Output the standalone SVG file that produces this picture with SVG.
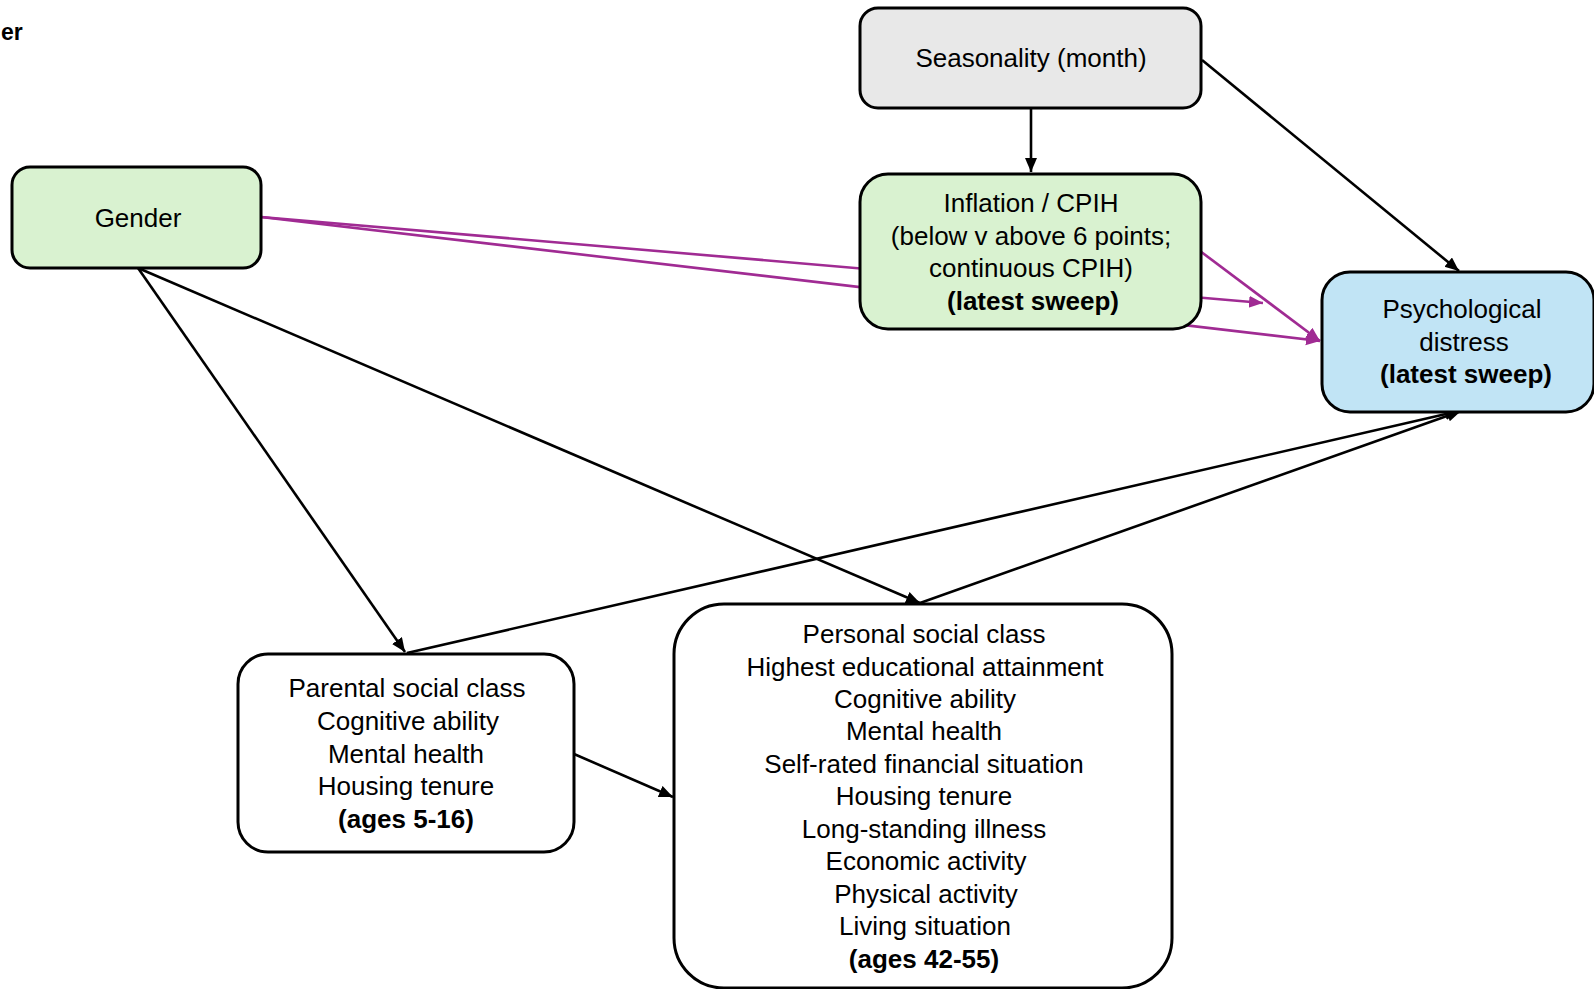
<svg xmlns="http://www.w3.org/2000/svg" width="1594" height="989" viewBox="0 0 1594 989">
<style>
.box{stroke:#000;stroke-width:3}
.t{font-family:"Liberation Sans",Arial,sans-serif;font-size:26px;fill:#000;text-anchor:middle}
.b{font-weight:bold}
.blk{stroke:#000;stroke-width:2.6;fill:none}
.pur{stroke:#a02b93;stroke-width:2.6;fill:none}
</style>
<defs>
<marker id="ab" markerUnits="userSpaceOnUse" markerWidth="16" markerHeight="14" refX="14" refY="6" orient="auto">
<path d="M0,0 L14,6 L0,12 Z" fill="#000"/>
</marker>
<marker id="ap" markerUnits="userSpaceOnUse" markerWidth="16" markerHeight="14" refX="14" refY="6" orient="auto">
<path d="M0,0 L14,6 L0,12 Z" fill="#a02b93"/>
</marker>
</defs>
<rect width="1594" height="989" fill="#fff"/>
<text class="t b" x="1" y="40" style="text-anchor:start;font-size:23px">er</text>
<g id="connectors">
<line class="pur" x1="261" y1="217" x2="1320" y2="341" marker-end="url(#ap)"/>
<line class="pur" x1="261" y1="217" x2="1263" y2="303" marker-end="url(#ap)"/>
<line class="pur" x1="1200" y1="251" x2="1320" y2="341" marker-end="url(#ap)"/>
<line class="blk" x1="1031" y1="108" x2="1031" y2="172" marker-end="url(#ab)"/>
<line class="blk" x1="1202" y1="60" x2="1459" y2="271" marker-end="url(#ab)"/>
<line class="blk" x1="138" y1="268" x2="405" y2="652" marker-end="url(#ab)"/>
<line class="blk" x1="138" y1="268" x2="920" y2="603" marker-end="url(#ab)"/>
<line class="blk" x1="407" y1="653" x2="1459" y2="411" marker-end="url(#ab)"/>
<line class="blk" x1="920" y1="603" x2="1461" y2="411" marker-end="url(#ab)"/>
<line class="blk" x1="574" y1="754" x2="673" y2="797" marker-end="url(#ab)"/>
</g>
<g id="gender">
<rect class="box" x="12" y="167" width="249" height="101" rx="18" fill="#d9f2d0"/>
<text class="t" x="138" y="227">Gender</text>
</g>
<g id="seasonality">
<rect class="box" x="860" y="8" width="341" height="100" rx="18" fill="#e8e8e8"/>
<text class="t" x="1031" y="67">Seasonality (month)</text>
</g>
<g id="inflation">
<rect class="box" x="860" y="174" width="341" height="155" rx="28" fill="#d9f2d0"/>
<text class="t" x="1031" y="212">Inflation / CPIH</text>
<text class="t" x="1031" y="245">(below v above 6 points;</text>
<text class="t" x="1031" y="277">continuous CPIH)</text>
<text class="t b" x="1033" y="310">(latest sweep)</text>
</g>
<g id="distress">
<rect class="box" x="1322" y="272" width="272" height="140" rx="28" fill="#c1e4f5"/>
<text class="t" x="1462" y="318">Psychological</text>
<text class="t" x="1464" y="351">distress</text>
<text class="t b" x="1466" y="383">(latest sweep)</text>
</g>
<g id="childhood">
<rect class="box" x="238" y="654" width="336" height="198" rx="30" fill="#fff"/>
<text class="t" x="407" y="697">Parental social class</text>
<text class="t" x="408" y="730">Cognitive ability</text>
<text class="t" x="406" y="763">Mental health</text>
<text class="t" x="406" y="795">Housing tenure</text>
<text class="t b" x="406" y="828">(ages 5-16)</text>
</g>
<g id="adulthood">
<rect class="box" x="674" y="604" width="498" height="384" rx="50" fill="#fff"/>
<text class="t" x="924" y="643">Personal social class</text>
<text class="t" x="925" y="676">Highest educational attainment</text>
<text class="t" x="925" y="708">Cognitive ability</text>
<text class="t" x="924" y="740">Mental health</text>
<text class="t" x="924" y="773">Self-rated financial situation</text>
<text class="t" x="924" y="805">Housing tenure</text>
<text class="t" x="924" y="838">Long-standing illness</text>
<text class="t" x="926" y="870">Economic activity</text>
<text class="t" x="926" y="903">Physical activity</text>
<text class="t" x="925" y="935">Living situation</text>
<text class="t b" x="924" y="968">(ages 42-55)</text>
</g>
</svg>
